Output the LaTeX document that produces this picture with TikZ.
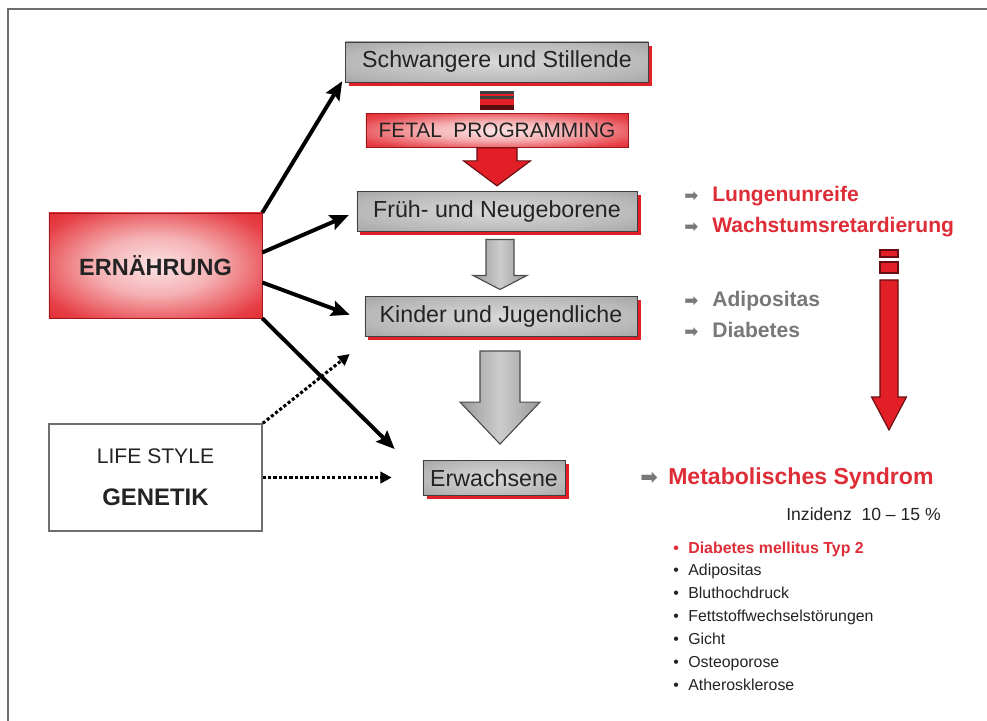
\documentclass[tikz,border=0pt]{standalone}
\usepackage{fontspec}
\setmainfont{Liberation Sans}
\newfontfamily\symfont{DejaVu Sans}
\usepackage{xcolor}
\usepackage{tikz}
\usetikzlibrary{arrows.meta, positioning, calc, shadows}
\definecolor{sigred}{RGB}{226, 30, 38}
\definecolor{textred}{RGB}{222, 45, 55}
\definecolor{darkink}{RGB}{35, 35, 35}
\definecolor{framegray}{RGB}{110, 110, 110}
\definecolor{softgray}{RGB}{120, 120, 120}

\pgfdeclareradialshading{redglow}{\pgfpoint{0bp}{0bp}}{color(0bp)=(sigred!12); color(14bp)=(sigred!35); color(30bp)=(sigred!85); color(40bp)=(sigred); color(75bp)=(sigred)}
\pgfdeclareradialshading{silver}{\pgfpoint{0bp}{0bp}}{color(0bp)=(gray!30); color(25bp)=(gray!55); color(50bp)=(gray!90); color(75bp)=(gray!95)}

% block arrow pointing down: style, start, tip, shaft half, head half, head length
\newcommand{\blockdown}[6]{\draw[#1] ($(#2)+(-#4,0)$) -- ($(#2)+(#4,0)$) -- ($(#3)+(#4,-#6)$) -- ($(#3)+(#5,-#6)$) -- (#3) -- ($(#3)+(-#5,-#6)$) -- ($(#3)+(-#4,-#6)$) -- cycle;}
\newcommand{\sigarrow}[2]{\makebox[#2][l]{\symfont\fontsize{#1}{#1}\selectfont\textcolor{softgray}{➡}}}

\begin{document}
\begin{tikzpicture}[x=0.025cm, y=-0.025cm]
    % Styles
    \tikzstyle{stage} = [rectangle, draw=black!75, shading=silver, minimum height=1cm, text centered, text=darkink, font=\fontsize{16.5}{19}\selectfont, drop shadow={fill=sigred, opacity=1, shadow xshift=2.5pt, shadow yshift=-2.5pt}]
    \tikzstyle{redbox} = [rectangle, draw=sigred!70!black, shading=redglow, text centered, text=darkink]
    \tikzstyle{plainbox} = [rectangle, draw=framegray, fill=white, line width=1pt, text centered, text=darkink]
    \tikzstyle{feed} = [line width=2.8pt, -{Stealth[length=13pt, width=11pt, inset=2pt]}]
    \tikzstyle{hint} = [line width=2.2pt, dash pattern=on 2.2pt off 1.6pt, -{Triangle[length=8pt, width=8pt]}]
    \tikzstyle{grayblock} = [draw=black!70, line width=0.8pt, left color=gray!80, right color=gray!80, middle color=gray!40]
    \tikzstyle{redblock} = [draw=sigred!45!black, line width=0.8pt, fill=sigred]
    \tikzstyle{effect} = [anchor=base west, inner sep=0pt, font=\fontsize{15}{18}\selectfont\bfseries]
    \tikzstyle{listitem} = [anchor=base west, inner sep=0pt, text=darkink, font=\fontsize{11.3}{14}\selectfont]

    \useasboundingbox (0,0) rectangle (987,721);
    \draw[framegray, line width=1.5pt] (8,721) -- (8,9) -- (987,9);

    % Nodes
    \node (schwanger) [stage, minimum width=7.575cm] at (497,62) {Schwangere und Stillende};
    \node (fetal) [redbox, minimum width=6.55cm, minimum height=0.85cm, font=\fontsize{14.8}{17}\selectfont, below=0.775cm of schwanger] {FETAL\ \ PROGRAMMING};
    \node (frueh) [stage, minimum width=7cm, below=1.075cm of fetal] {Früh- und Neugeborene};
    \node (kinder) [stage, minimum width=6.8cm, below=1.625cm of frueh, xshift=0.1cm] {Kinder und Jugendliche};
    \node (erwachsene) [stage, minimum width=3.55cm, minimum height=0.875cm, below=3.075cm of kinder, xshift=-0.175cm] {Erwachsene};

    \node (ernaehrung) [redbox, minimum width=5.325cm, minimum height=2.625cm, font=\fontsize{16.7}{20}\selectfont\bfseries] at (155.5,265.5) {ERNÄHRUNG};
    \node (lifestyle) [plainbox, minimum width=5.325cm, minimum height=2.675cm, align=center, font=\fontsize{15}{30}\selectfont, below=2.625cm of ernaehrung] {LIFE STYLE\\{\fontsize{17}{30}\selectfont\bfseries GENETIK}};

    \node (lungen) [effect, text=textred] at (684,202) {\sigarrow{12}{19.9pt}Lungenunreife};
    \node (wachstum) [effect, text=textred] at (684,233) {\sigarrow{12}{19.9pt}Wachstumsretardierung};
    \node (adipo) [effect, text=softgray] at (684,307) {\sigarrow{12}{19.9pt}Adipositas};
    \node (diab) [effect, text=softgray] at (684,337) {\sigarrow{12}{19.9pt}Diabetes};
    \node (metab) [effect, text=textred, font=\fontsize{16.4}{20}\selectfont\bfseries] at (640,484) {\sigarrow{15}{19.9pt}Metabolisches Syndrom};
    \node (inzidenz) [anchor=base east, inner sep=0pt, text=darkink, font=\fontsize{12.5}{15}\selectfont] at (941,520) {Inzidenz\ \ 10 – 15 \%};

    \node (item0) [listitem, text=textred, font=\fontsize{11.3}{14}\selectfont\bfseries] at (673,553) {\makebox[10.7pt][l]{\textbullet}Diabetes mellitus Typ 2};
    \foreach \disease [count=\i] in {Adipositas, Bluthochdruck, Fettstoffwechselstörungen, Gicht, Osteoporose, Atherosklerose}
        \node (item\i) [listitem] at (673,553+22.9*\i) {\makebox[10.7pt][l]{\textbullet}\disease};

    % Block arrows
    \coordinate (fp0) at (fetal.south);
    \coordinate (fp1) at ($(fetal.south)+(0,38)$);
    \fill[sigred] (480,91) rectangle (514,110);
    \fill[black!75] (480,91) rectangle (514,94);
    \fill[black!75] (480,96.5) rectangle (514,99.5);
    \fill[sigred!40!black] (480,105) rectangle (514,110);
    \blockdown{redblock}{fp0}{fp1}{20}{33.5}{25}

    \coordinate (g1a) at ($(frueh.south)+(3,8)$);
    \coordinate (g1b) at ($(g1a |- kinder.north)+(0,-7)$);
    \blockdown{grayblock}{g1a}{g1b}{14}{27}{14}

    \coordinate (g2a) at ($(kinder.south)+(-1,14)$);
    \coordinate (g2b) at ($(g2a |- erwachsene.north)+(0,-16)$);
    \blockdown{grayblock}{g2a}{g2b}{20}{40}{42}

    \coordinate (ra) at (889,280);
    \coordinate (rb) at (889,430);
    \draw[redblock] (880,250) rectangle (898,257);
    \draw[redblock] (880,262) rectangle (898,273);
    \blockdown{redblock}{ra}{rb}{9}{17.5}{33}

    % Connections
    \draw[feed] (ernaehrung.north east) -- ($(schwanger.south west)+(-3,-1)$);
    \draw[feed] ($(ernaehrung.east)+(0,-13)$) -- ($(frueh.west)+(-8,4)$);
    \draw[feed] ($(ernaehrung.east)+(0,17)$) -- ($(kinder.west)+(-15,-2)$);
    \draw[feed] (ernaehrung.south east) -- ($(erwachsene.north west)+(-28,-11)$);
    \draw[hint] (lifestyle.north east) -- ($(kinder.south west)+(-15,17)$);
    \draw[hint] (lifestyle.east) -- ($(lifestyle.east -| erwachsene.west)+(-31,0)$);
\end{tikzpicture}
\end{document}
